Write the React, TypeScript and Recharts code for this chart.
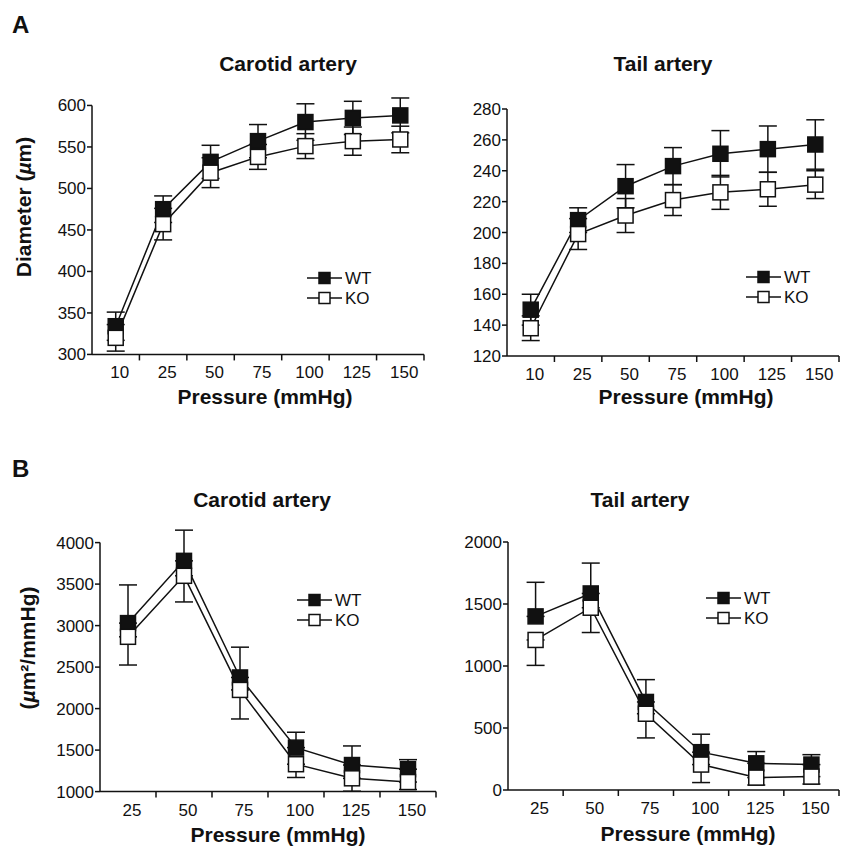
import React from "react";
import { LineChart, Line, XAxis, YAxis, ErrorBar, ReferenceLine, Legend } from "recharts";

// pressure steps (mmHg)
const pressuresA = ["10", "25", "50", "75", "100", "125", "150"];
const pressuresB = ["25", "50", "75", "100", "125", "150"];

// A: diameter (µm), SEM both ways
const carotidDiamWT = [334, 475, 532, 557, 580, 585, 588];
const carotidDiamWTErr = [17, 16, 20, 20, 22, 20, 21];
const carotidDiamKO = [320, 457, 519, 538, 551, 557, 559];
const carotidDiamKOErr = [16, 19, 18, 15, 15, 17, 16];

const tailDiamWT = [150, 208, 230, 243, 251, 254, 257];
const tailDiamWTErr = [10, 8, 14, 12, 15, 15, 16];
const tailDiamKO = [138, 199, 211, 221, 226, 228, 231];
const tailDiamKOErr = [8, 10, 11, 10, 11, 11, 9];

// B: distensibility (µm²/mmHg), WT SEM drawn up, KO SEM drawn down
const carotidDistWT = [3030, 3780, 2375, 1530, 1320, 1270];
const carotidDistWTErr = [460, 370, 365, 185, 230, 115];
const carotidDistKO = [2865, 3600, 2225, 1330, 1160, 1115];
const carotidDistKOErr = [340, 315, 350, 160, 155, 90];

const tailDistWT = [1400, 1585, 710, 305, 215, 205];
const tailDistWTErr = [275, 245, 180, 145, 95, 80];
const tailDistKO = [1210, 1470, 615, 205, 100, 108];
const tailDistKOErr = [205, 200, 195, 145, 60, 60];

const ticksCarotidDiam = [300, 350, 400, 450, 500, 550, 600];
const ticksTailDiam = [120, 140, 160, 180, 200, 220, 240, 260, 280];
const ticksCarotidDist = [1000, 1500, 2000, 2500, 3000, 3500, 4000];
const ticksTailDist = [0, 500, 1000, 1500, 2000];

const groups = [
  { name: "WT", fill: "#111" },
  { name: "KO", fill: "#fff" },
];

const FONT = "'Liberation Sans', Arial, Helvetica, sans-serif";
const INK = "#111";

function buildRows(labels, wt, wtErr, ko, koErr, oneSided = false) {
  return labels.map((label, i) => ({
    x: i,
    label,
    wt: wt[i],
    wtErr: oneSided ? [0, wtErr[i]] : wtErr[i],
    ko: ko[i],
    koErr: oneSided ? [koErr[i], 0] : koErr[i],
  }));
}

function SquareDot(props) {
  const { cx, cy, fill, index } = props;
  if (cx == null || cy == null) return null;
  return (
    <rect
      key={`sq-${fill}-${index}`}
      x={cx - 7.5}
      y={cy - 7.5}
      width={15}
      height={15}
      fill={fill}
      stroke={INK}
      strokeWidth={1.5}
    />
  );
}

function XTick(props) {
  const { x, y, payload, labels, half } = props;
  return (
    <g>
      <text x={x + 4} y={y + 24} textAnchor="middle" fontSize={17} fill={INK} fontFamily={FONT}>
        {labels[payload.value]}
      </text>
      <line x1={x + half} x2={x + half} y1={y} y2={y + 6} stroke={INK} strokeWidth={1.5} />
    </g>
  );
}

function LegendBox() {
  return (
    <svg width={80} height={42}>
      {groups.map((g, i) => {
        const cy = 10 + i * 20;
        return (
          <g key={g.name}>
            <line x1={0} x2={35} y1={cy} y2={cy} stroke={INK} strokeWidth={1.5} />
            <rect x={12} y={cy - 5.5} width={11} height={11} fill={g.fill} stroke={INK} strokeWidth={1.5} />
            <text x={38} y={cy + 6} fontSize={17} fill={INK} fontFamily={FONT}>
              {g.name}
            </text>
          </g>
        );
      })}
    </svg>
  );
}

function Panel({ rows, labels, ticks, yMax, plotLeft, plotRight, yTickTop, yBottom, legendLeft, legendTop }) {
  const YW = 75;
  const MT = 8;
  const MR = 2;
  const XH = 40;
  const yMin = ticks[0];
  const tickMax = ticks[ticks.length - 1];
  const pxPerUnit = (yBottom - yTickTop) / (tickMax - yMin);
  const plotTop = yTickTop - (yMax - tickMax) * pxPerUnit;
  const plotW = plotRight - plotLeft;
  const plotH = yBottom - plotTop;
  const chartLeft = plotLeft - YW;
  const chartTop = plotTop - MT;
  const width = YW + plotW + MR;
  const height = MT + plotH + XH;
  const n = labels.length;
  const half = plotW / n / 2;
  const idx = labels.map((_, i) => i);

  return (
    <div style={{ position: "absolute", left: chartLeft, top: chartTop }}>
      <LineChart width={width} height={height} data={rows} margin={{ top: MT, right: MR, bottom: 0, left: 0 }}>
        <XAxis
          type="number"
          dataKey="x"
          domain={[-0.5, n - 0.5]}
          ticks={idx}
          interval={0}
          height={XH}
          tickLine={false}
          tickSize={0}
          tickMargin={0}
          axisLine={{ stroke: INK, strokeWidth: 1.5 }}
          tick={(p) => <XTick {...p} labels={labels} half={half} />}
        />
        <YAxis
          type="number"
          domain={[yMin, yMax]}
          ticks={ticks}
          interval={0}
          width={YW}
          axisLine={false}
          tickLine={{ stroke: INK, strokeWidth: 1.5 }}
          tickSize={5}
          tickMargin={1}
          tick={{ fontSize: 17, fill: INK, fontFamily: FONT }}
        />
        <ReferenceLine
          segment={[
            { x: -0.5, y: yMin },
            { x: -0.5, y: tickMax },
          ]}
          stroke={INK}
          strokeWidth={1.5}
          ifOverflow="visible"
        />
        <Line dataKey="wt" stroke="none" dot={false} activeDot={false} isAnimationActive={false} legendType="none">
          <ErrorBar dataKey="wtErr" width={9} stroke={INK} strokeWidth={1.5} direction="y" />
        </Line>
        <Line dataKey="ko" stroke="none" dot={false} activeDot={false} isAnimationActive={false} legendType="none">
          <ErrorBar dataKey="koErr" width={9} stroke={INK} strokeWidth={1.5} direction="y" />
        </Line>
        <Line
          dataKey="wt"
          name="WT"
          stroke={INK}
          strokeWidth={1.5}
          activeDot={false}
          isAnimationActive={false}
          dot={(p) => <SquareDot {...p} fill="#111" />}
        />
        <Line
          dataKey="ko"
          name="KO"
          stroke={INK}
          strokeWidth={1.5}
          activeDot={false}
          isAnimationActive={false}
          dot={(p) => <SquareDot {...p} fill="#fff" />}
        />
        <Legend
          layout="vertical"
          align="center"
          verticalAlign="middle"
          content={() => <LegendBox />}
          wrapperStyle={{ left: legendLeft - chartLeft, top: legendTop - chartTop, width: 80, height: 42 }}
        />
      </LineChart>
    </div>
  );
}

const textBase = { position: "absolute", fontFamily: FONT, color: INK, whiteSpace: "nowrap" };

function Txt({ x, y, size, bold = true, rotate = false, children }) {
  return (
    <div
      style={{
        ...textBase,
        left: x,
        top: y,
        fontSize: size,
        fontWeight: bold ? 700 : 400,
        lineHeight: 1,
        transform: `translate(-50%, -50%)${rotate ? " rotate(-90deg)" : ""}`,
      }}
    >
      {children}
    </div>
  );
}

export default function App() {
  const carotidDiam = buildRows(pressuresA, carotidDiamWT, carotidDiamWTErr, carotidDiamKO, carotidDiamKOErr);
  const tailDiam = buildRows(pressuresA, tailDiamWT, tailDiamWTErr, tailDiamKO, tailDiamKOErr);
  const carotidDist = buildRows(pressuresB, carotidDistWT, carotidDistWTErr, carotidDistKO, carotidDistKOErr, true);
  const tailDist = buildRows(pressuresB, tailDistWT, tailDistWTErr, tailDistKO, tailDistKOErr, true);

  return (
    <div
      style={{
        position: "absolute",
        left: 0,
        top: 0,
        width: 842,
        height: 847,
        overflow: "hidden",
        background: "#fff",
        fontFamily: FONT,
      }}
    >
      <div style={{ ...textBase, left: 12, top: 11, fontSize: 24, fontWeight: 700 }}>A</div>
      <div style={{ ...textBase, left: 12, top: 455, fontSize: 24, fontWeight: 700 }}>B</div>

      <Txt x={288} y={63} size={21}>Carotid artery</Txt>
      <Txt x={663} y={63} size={21}>Tail artery</Txt>
      <Txt x={262} y={499} size={21}>Carotid artery</Txt>
      <Txt x={640} y={499} size={21}>Tail artery</Txt>

      <Panel
        rows={carotidDiam}
        labels={pressuresA}
        ticks={ticksCarotidDiam}
        yMax={615}
        plotLeft={92}
        plotRight={424}
        yTickTop={105}
        yBottom={354}
        legendLeft={307}
        legendTop={268}
      />
      <Panel
        rows={tailDiam}
        labels={pressuresA}
        ticks={ticksTailDiam}
        yMax={280}
        plotLeft={507}
        plotRight={839}
        yTickTop={109}
        yBottom={356}
        legendLeft={746}
        legendTop={267}
      />
      <Panel
        rows={carotidDist}
        labels={pressuresB}
        ticks={ticksCarotidDist}
        yMax={4200}
        plotLeft={100}
        plotRight={436}
        yTickTop={543}
        yBottom={792}
        legendLeft={297}
        legendTop={590}
      />
      <Panel
        rows={tailDist}
        labels={pressuresB}
        ticks={ticksTailDist}
        yMax={2000}
        plotLeft={508}
        plotRight={839}
        yTickTop={542}
        yBottom={790}
        legendLeft={706}
        legendTop={588}
      />

      <Txt x={23} y={207} size={21} rotate>
        Diameter (<i>µ</i>m)
      </Txt>
      <Txt x={27} y={648} size={21} rotate>
        (<i>µ</i>m²/mmHg)
      </Txt>

      <Txt x={265} y={396} size={21}>Pressure (mmHg)</Txt>
      <Txt x={686} y={396} size={21}>Pressure (mmHg)</Txt>
      <Txt x={278} y={834} size={21}>Pressure (mmHg)</Txt>
      <Txt x={688} y={833} size={21}>Pressure (mmHg)</Txt>
    </div>
  );
}
